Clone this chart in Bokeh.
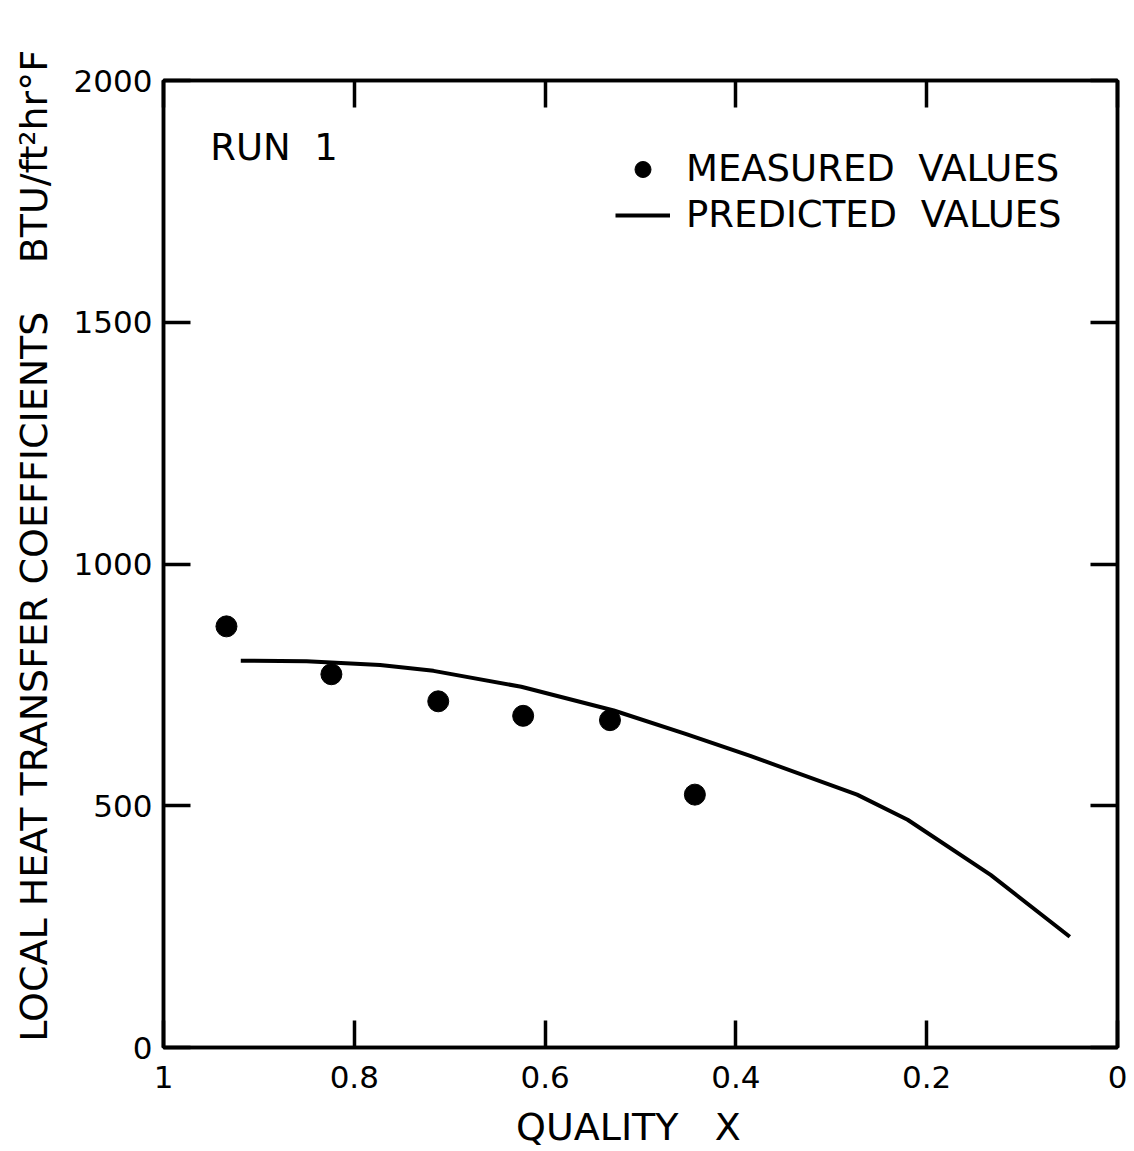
from bokeh.plotting import figure
from bokeh.models import (Range1d, LinearAxis, FixedTicker, Legend, LegendItem, Label)
from bokeh.embed import file_html
from bokeh.resources import INLINE

# ---- data ----
meas_x = [0.934, 0.824, 0.712, 0.623, 0.532, 0.443]
meas_y = [871, 772, 716, 686, 677, 523]

pred_x = [0.919, 0.85, 0.773, 0.717, 0.625, 0.528, 0.452, 0.385, 0.273, 0.220, 0.133, 0.050]
pred_y = [800, 799, 791, 779, 746, 697, 648, 603, 523, 471, 357, 229]

x_ticks = [1, 0.8, 0.6, 0.4, 0.2, 0]
x_tick_labels = ["1", "0.8", "0.6", "0.4", "0.2", "0"]
y_ticks = [0, 500, 1000, 1500, 2000]
y_tick_labels = ["0", "500", "1000", "1500", "2000"]

NB = "\u00a0"
x_title = "QUALITY" + NB * 3 + "X" + NB * 2
y_title = NB * 3 + "LOCAL HEAT TRANSFER COEFFICIENTS" + NB * 4 + "BTU/ft\u00b2hr\u00b0F"
run_text = "RUN" + NB * 2 + "1"
legend_labels = ["MEASURED" + NB * 2 + "VALUES", "PREDICTED" + NB * 2 + "VALUES"]

FONT = "DejaVu Sans"
LW = 3.5

W, H = 1134, 1151
p = figure(width=W, height=H, output_backend="svg", toolbar_location=None,
           x_range=Range1d(1, 0), y_range=Range1d(0, 2000),
           x_axis_location=None, y_axis_location=None,
           min_border_left=163, min_border_right=17, min_border_top=80,
           min_border_bottom=103)
p.grid.visible = False
p.background_fill_color = "white"
p.border_fill_color = "white"
p.outline_line_color = "black"
p.outline_line_width = LW


def style_axis(ax, labels, show_labels=True):
    ax.axis_line_color = "black"
    ax.axis_line_width = LW
    ax.major_tick_in = 27
    ax.major_tick_out = 0
    ax.major_tick_line_width = LW
    ax.major_tick_line_color = "black"
    ax.minor_tick_line_color = None
    ax.major_label_text_font = FONT
    ax.major_label_text_font_size = "31px"
    ax.major_label_overrides = labels
    if not show_labels:
        ax.major_label_text_color = None
        ax.major_label_text_font_size = "0px"
        ax.major_label_standoff = 0
    else:
        ax.major_label_text_color = "black"


xl = {t: s for t, s in zip(x_ticks, x_tick_labels)}
yl = {t: s for t, s in zip(y_ticks, y_tick_labels)}

bottom = LinearAxis(ticker=FixedTicker(ticks=x_ticks))
style_axis(bottom, xl)
bottom.major_label_standoff = 18
bottom.axis_label = x_title
bottom.axis_label_text_font = FONT
bottom.axis_label_text_font_size = "38px"
bottom.axis_label_text_font_style = "normal"
bottom.axis_label_text_color = "black"
bottom.axis_label_standoff = 14
p.add_layout(bottom, "below")

top = LinearAxis(ticker=FixedTicker(ticks=x_ticks))
style_axis(top, xl, show_labels=False)
p.add_layout(top, "above")

left = LinearAxis(ticker=FixedTicker(ticks=y_ticks))
style_axis(left, yl)
left.major_label_standoff = 11
left.axis_label = y_title
left.axis_label_text_font = FONT
left.axis_label_text_font_size = "38px"
left.axis_label_text_font_style = "normal"
left.axis_label_text_color = "black"
left.axis_label_standoff = 15
p.add_layout(left, "left")

right = LinearAxis(ticker=FixedTicker(ticks=y_ticks))
style_axis(right, yl, show_labels=False)
p.add_layout(right, "right")

# predicted curve and measured points
line_r = p.line(pred_x, pred_y, line_color="black", line_width=4)
pts_r = p.scatter(meas_x, meas_y, size=21, fill_color="black", line_color="black")

run = Label(x=0.951, y=1862, text=run_text, text_font=FONT,
            text_font_size="37px", text_color="black",
            text_align="left", text_baseline="middle")
p.add_layout(run)

legend = Legend(items=[LegendItem(label=legend_labels[0], renderers=[pts_r]),
                       LegendItem(label=legend_labels[1], renderers=[line_r])],
                location=(452, 811), orientation="vertical",
                label_text_font=FONT, label_text_font_size="37px",
                label_text_color="black", glyph_width=55, glyph_height=40,
                label_standoff=16, spacing=3, padding=0, margin=0,
                border_line_color=None, background_fill_alpha=0)
p.add_layout(legend)

open("out.html", "w").write(file_html(p, INLINE))
